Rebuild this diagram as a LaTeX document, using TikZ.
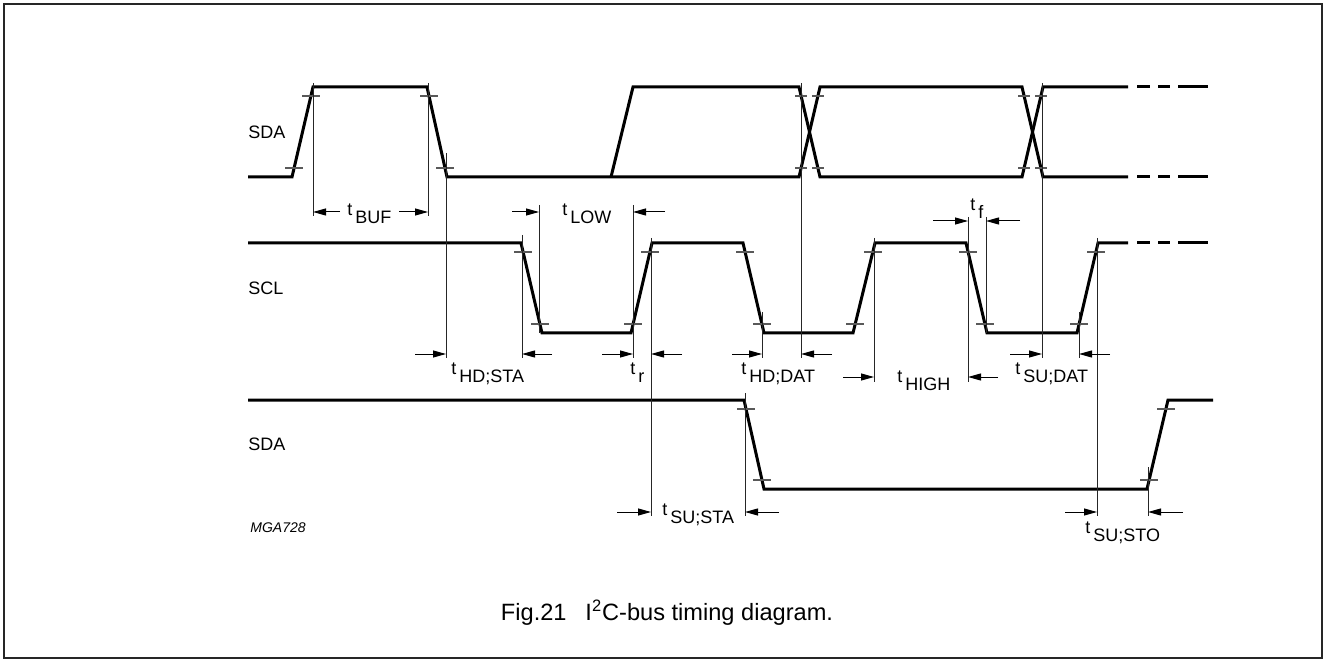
\documentclass[tikz,border=0pt]{standalone}
\usepackage{fontspec}
\setmainfont{Liberation Sans}
\usetikzlibrary{arrows.meta}
\newcommand{\Timing}[1]{t\hspace{1.5pt}\raisebox{-4pt}{#1}}
\tikzset{
    tick/.pic = {
    \draw[tickline] (-#1,0) -- (#1,0);
    },
    sig/.style={line width=1.5pt, line join=miter},
    tickline/.style={line width=0.55pt, black!65},
    guide/.style={line width=0.5pt, black!85},
    dim/.style={line width=0.5pt, -{Triangle[length=6.5pt, width=3.5pt]}},
    lbl/.style={anchor=base west, inner sep=0pt, font=\fontsize{9}{10}\selectfont},
    signame/.style={anchor=west, inner sep=0pt, font=\fontsize{9}{10}\selectfont},
}

\begin{document}
\begin{tikzpicture}[x=0.5pt, y=-0.5pt]
    \useasboundingbox (0,0) rectangle (1326,662);
    \draw[line width=0.8pt, black!85] (4,4) rectangle (1322,658);

    \node[signame] (sda1) at (248,132) {SDA};
    \node[signame] (scl) at (248,288) {SCL};
    \node[signame] (sda2) at (248,444) {SDA};

    \draw[sig] (248,177) -- (292,177) -- (313,87) -- (427,87) -- (447,177) -- (799,177) -- (820,87) -- (1022,87) -- (1043,177) -- (1128,177);
    \draw[sig] (611,177) -- (633,87) -- (799,87) -- (820,177) -- (1022,177) -- (1043,87) -- (1128,87);
    \draw[sig] (248,243) -- (521,243) -- (542,333) -- (631,333) -- (652,243) -- (743,243) -- (764,333) -- (853,333) -- (875,243) -- (966,243) -- (987,333) -- (1077,333) -- (1098,243) -- (1128,243);
    \draw[sig] (248,400) -- (744,400) -- (764,489) -- (1147,489) -- (1168,400) -- (1213,400);

    \draw[sig] (1137,87) -- (1150,87) (1158,87) -- (1170,87) (1178,87) -- (1208,87);
    \draw[sig] (1137,177) -- (1150,177) (1158,177) -- (1170,177) (1178,177) -- (1208,177);
    \draw[sig] (1137,243) -- (1150,243) (1158,243) -- (1170,243) (1178,243) -- (1208,243);

    \path (294,168) pic {tick=9} (311,96) pic {tick=9} (429,96) pic {tick=9} (445,168) pic {tick=9};
    \path (801,96) pic {tick=6} (818,96) pic {tick=6} (801,168) pic {tick=6} (818,168) pic {tick=6};
    \path (1024,96) pic {tick=6} (1041,96) pic {tick=6} (1024,168) pic {tick=6} (1041,168) pic {tick=6};
    \path (523,252) pic {tick=9} (540,324) pic {tick=9} (633,324) pic {tick=9} (650,252) pic {tick=9};
    \path (745,252) pic {tick=9} (762,324) pic {tick=9} (855,324) pic {tick=9} (873,252) pic {tick=9};
    \path (968,252) pic {tick=9} (985,324) pic {tick=9} (1079,324) pic {tick=9} (1096,252) pic {tick=9};
    \path (746,409) pic {tick=9} (762,480) pic {tick=9} (1149,480) pic {tick=9} (1166,409) pic {tick=9};

    \draw[guide] (313,83) -- (313,216);
    \draw[guide] (428,83) -- (428,216);
    \draw[guide] (446,153) -- (446,358);
    \draw[guide] (801,83) -- (801,358);
    \draw[guide] (1042,83) -- (1042,358);
    \draw[guide] (522,235) -- (522,358);
    \draw[guide] (539,205) -- (539,333);
    \draw[guide] (633,205) -- (633,358);
    \draw[guide] (651,238) -- (651,516);
    \draw[guide] (762,312) -- (762,358);
    \draw[guide] (874,238) -- (874,382);
    \draw[guide] (968,217) -- (968,382);
    \draw[guide] (986,217) -- (986,333);
    \draw[guide] (1079,312) -- (1079,358);
    \draw[guide] (1097,238) -- (1097,516);
    \draw[guide] (745,393) -- (745,516);
    \draw[guide] (1148,467) -- (1148,516);

    \draw[dim] (340,212) -- (313,212);
    \draw[dim] (399,212) -- (428,212);
    \draw[dim] (512,212) -- (539,212);
    \draw[dim] (665,212) -- (633,212);
    \draw[dim] (933,221) -- (968,221);
    \draw[dim] (1020,221) -- (986,221);
    \draw[dim] (415,354) -- (446,354);
    \draw[dim] (552,354) -- (522,354);
    \draw[dim] (602,354) -- (633,354);
    \draw[dim] (682,354) -- (651,354);
    \draw[dim] (732,354) -- (762,354);
    \draw[dim] (832,354) -- (801,354);
    \draw[dim] (1010,354) -- (1042,354);
    \draw[dim] (1110,354) -- (1079,354);
    \draw[dim] (843,377) -- (874,377);
    \draw[dim] (998,377) -- (968,377);
    \draw[dim] (617,512) -- (651,512);
    \draw[dim] (779,512) -- (745,512);
    \draw[dim] (1065,512) -- (1097,512);
    \draw[dim] (1183,512) -- (1148,512);

    \node[lbl] (tbuf) at (347,216) {\Timing{BUF}};
    \node[lbl] (tlow) at (562,216) {\Timing{LOW}};
    \node[lbl] (tfall) at (970,211) {\Timing{f}};
    \node[lbl] (thdsta) at (451,374) {\Timing{HD;STA}};
    \node[lbl] (trise) at (630,374) {\Timing{r}};
    \node[lbl] (thddat) at (741,374) {\Timing{HD;DAT}};
    \node[lbl] (thigh) at (897,382) {\Timing{HIGH}};
    \node[lbl] (tsudat) at (1015,374) {\Timing{SU;DAT}};
    \node[lbl] (tsusta) at (662,515) {\Timing{SU;STA}};
    \node[lbl] (tsusto) at (1085,533) {\Timing{SU;STO}};

    \node[anchor=west, inner sep=0pt, font=\fontsize{7}{8}\selectfont\itshape] (code) at (250,528) {MGA728};
    \node[font=\fontsize{11.8}{14}\selectfont] (caption) at (667,613) {Fig.21\hspace{0.8em}I\textsuperscript{2}C-bus timing diagram.};
\end{tikzpicture}
\end{document}
